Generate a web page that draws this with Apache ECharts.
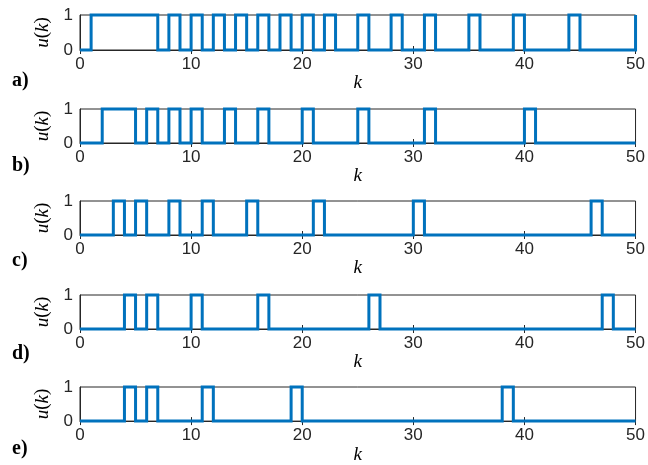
<!DOCTYPE html>
<html>
<head>
<meta charset="utf-8">
<script src="https://cdn.jsdelivr.net/npm/echarts@6/dist/echarts.min.js"></script>
<style>html,body{margin:0;padding:0;background:#fff}#c{width:648px;height:465px}</style>
</head>
<body>
<div id="c"></div>
<script>
// k = 0..50
const k = Array.from({length: 51}, (_, i) => i);
// u(k) per panel (0/1 values)
const uA = [0,1,1,1,1,1,1,0,1,0,1,0,1,0,1,0,1,0,1,0,1,0,1,0,0,1,0,0,1,0,0,1,0,0,0,1,0,0,0,1,0,0,0,0,1,0,0,0,0,0,1];
const uB = [0,0,1,1,1,0,1,0,1,0,1,0,0,1,0,0,1,0,0,0,1,0,0,0,0,1,0,0,0,0,0,1,0,0,0,0,0,0,0,0,1,0,0,0,0,0,0,0,0,0,0];
const uC = [0,0,0,1,0,1,0,0,1,0,0,1,0,0,0,1,0,0,0,0,0,1,0,0,0,0,0,0,0,0,1,0,0,0,0,0,0,0,0,0,0,0,0,0,0,0,1,0,0,0,0];
const uD = [0,0,0,0,1,0,1,0,0,0,1,0,0,0,0,0,1,0,0,0,0,0,0,0,0,0,1,0,0,0,0,0,0,0,0,0,0,0,0,0,0,0,0,0,0,0,0,1,0,0,0];
const uE = [0,0,0,0,1,0,1,0,0,0,0,1,0,0,0,0,0,0,0,1,0,0,0,0,0,0,0,0,0,0,0,0,0,0,0,0,0,0,1,0,0,0,0,0,0,0,0,0,0,0,0];
const panels = [uA, uB, uC, uD, uE];
const panelLetters = ['a)', 'b)', 'c)', 'd)', 'e)'];
const xTicks = [0, 10, 20, 30, 40, 50];
const yTicks = [0, 1];

const tops = [15, 109, 201, 295, 387];
const heights = [35, 34, 34, 34, 35];
const letterY = [81, 166, 261, 354, 449];

const axisColor = '#262626';
const grids = [], xAxes = [], yAxes = [], series = [], graphics = [];
panels.forEach((u, i) => {
  grids.push({left: 80, right: 11, top: tops[i], height: heights[i], show: true,
    borderColor: axisColor, borderWidth: 1, backgroundColor: '#fff'});
  xAxes.push({type: 'value', gridIndex: i, min: xTicks[0], max: xTicks[xTicks.length-1], interval: 10,
    axisLine: {show: true, onZero: false, lineStyle: {color: axisColor, width: 1}},
    axisTick: {show: true, inside: true, length: 4, lineStyle: {color: axisColor}},
    axisLabel: {color: axisColor, fontFamily: 'Liberation Sans, Arial', fontSize: 17, margin: 6},
    splitLine: {show: false},
    name: 'k', nameLocation: 'middle', nameGap: 22,
    nameTextStyle: {fontFamily: 'Liberation Serif, Times New Roman', fontStyle: 'italic', fontSize: 19, color: '#000'}
  });
  xAxes.push({type: 'value', gridIndex: i, position: 'top', min: 0, max: 50, interval: 10,
    axisLine: {show: false}, axisLabel: {show: false}, splitLine: {show: false},
    axisTick: {show: true, inside: true, length: 4, lineStyle: {color: axisColor}}});
  yAxes.push({type: 'value', gridIndex: i, min: yTicks[0], max: yTicks[1], interval: 1,
    axisLine: {show: true, onZero: false, lineStyle: {color: axisColor, width: 1}},
    axisTick: {show: false},
    axisLabel: {color: axisColor, fontFamily: 'Liberation Sans, Arial', fontSize: 17, margin: 7},
    splitLine: {show: false},
    name: '{i|u}{n|(}{i|k}{n|)}', nameLocation: 'middle', nameRotate: 90, nameGap: 28,
    nameTextStyle: {rich: {
      i: {fontFamily: 'Liberation Serif, Times New Roman', fontStyle: 'italic', fontSize: 19, color: '#000'},
      n: {fontFamily: 'Liberation Serif, Times New Roman', fontSize: 19, color: '#000'}
    }}
  });
  series.push({type: 'line', xAxisIndex: 2*i, yAxisIndex: i, step: 'end', symbol: 'none',
    clip: false, animation: false,
    lineStyle: {color: '#0072BD', width: 3, join: 'miter'},
    data: k.map((kk, j) => [kk, u[j]])});
  graphics.push({type: 'text', left: 12, top: letterY[i] - 10,
    style: {text: panelLetters[i], font: 'bold 20px "Liberation Serif", "Times New Roman"', fill: '#000'}});
});

const chart = echarts.init(document.getElementById('c'), null, {renderer: 'canvas'});
chart.setOption({animation: false, grid: grids, xAxis: xAxes, yAxis: yAxes, series: series, graphic: graphics});
</script>
</body>
</html>
